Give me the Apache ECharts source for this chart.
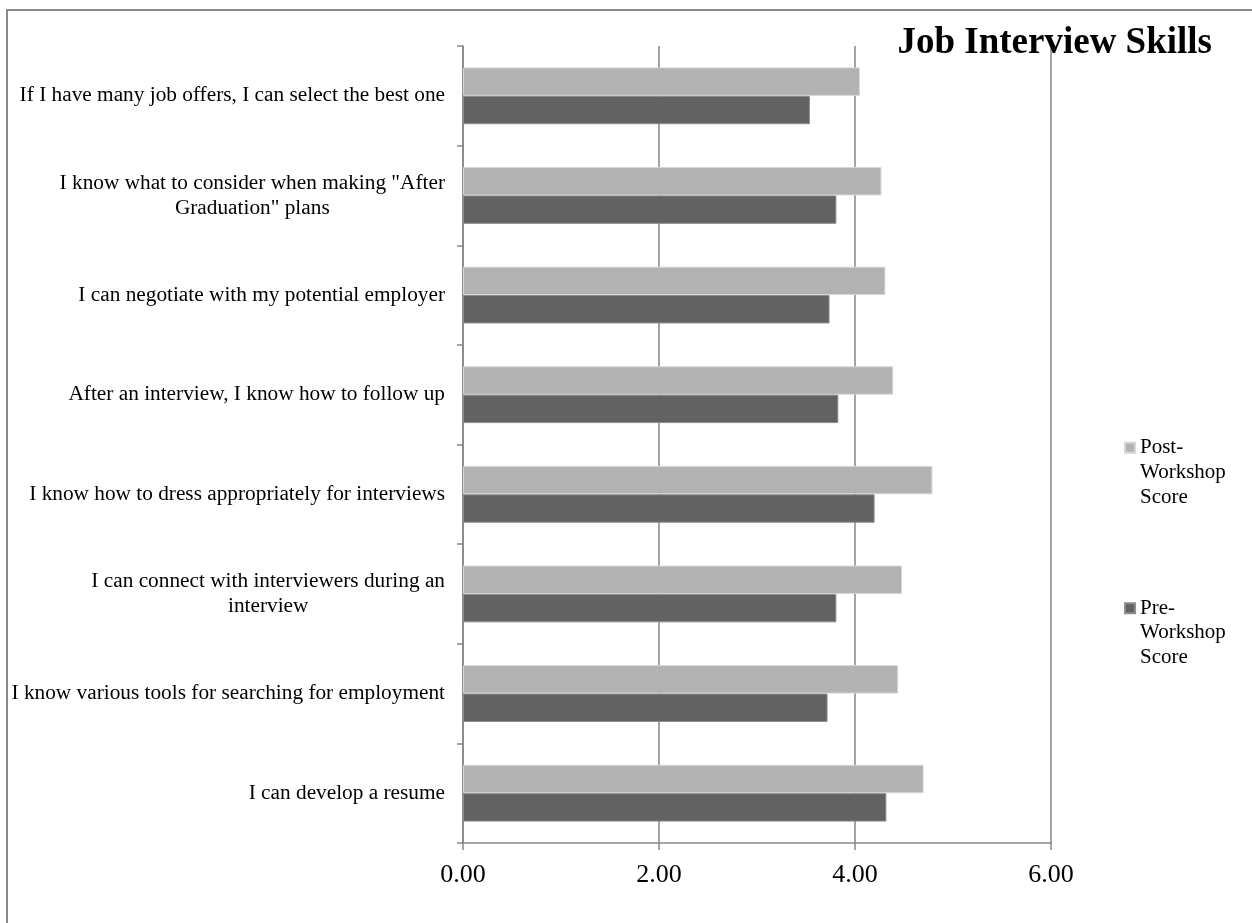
<!DOCTYPE html>
<html>
<head>
<meta charset="utf-8">
<style>
  html, body { margin: 0; padding: 0; background: #ffffff; }
  #chart { width: 1252px; height: 923px; }
</style>
<script src="https://cdn.jsdelivr.net/npm/echarts@6/dist/echarts.min.js"></script>
</head>
<body>
<div id="chart"></div>
<script>
// Categories, top to bottom as shown in the chart
const categories = [
  'If I have many job offers, I can select the best one',
  'I know what to consider when making "After\nGraduation" plans',
  'I can negotiate with my potential employer',
  'After an interview, I know how to follow up',
  'I know how to dress appropriately for interviews',
  'I can connect with interviewers during an\ninterview',
  'I know various tools for searching for employment',
  'I can develop a resume'
];
const seriesNames = ['Post-Workshop Score', 'Pre-Workshop Score'];
const postScores = [4.05, 4.27, 4.31, 4.39, 4.79, 4.48, 4.44, 4.70];
const preScores  = [3.54, 3.81, 3.74, 3.83, 4.20, 3.81, 3.72, 4.32];
const xTicks = [0, 2, 4, 6];
const titleText = 'Job Interview Skills';

const FONT = 'Liberation Serif, Times New Roman, serif';
const AXIS_GRAY = '#868686';

const chart = echarts.init(document.getElementById('chart'), null, { renderer: 'canvas' });

const option = {
  backgroundColor: '#ffffff',
  animation: false,
  title: {
    text: titleText,
    right: 40,
    top: 25,
    padding: 0,
    textStyle: { fontFamily: FONT, fontWeight: 'bold', fontSize: 37, color: '#000000' }
  },
  graphic: [{
    type: 'rect',
    silent: true,
    shape: { x: 7, y: 10, width: 1400, height: 1000 },
    style: { fill: 'none', stroke: '#8a8a8a', lineWidth: 2 }
  }],
  legend: {
    orient: 'vertical',
    left: 1119,
    top: 381,
    itemWidth: 10,
    itemHeight: 10,
    itemGap: 37,
    icon: 'rect',
    data: seriesNames,
    formatter: function (name) {
      // two leading empty lines so the marker sits beside the first text line
      return '\n\n' + name.replace('-', '-\n').replace(' ', '\n');
    },
    textStyle: {
      fontFamily: FONT,
      fontSize: 21,
      lineHeight: 24.7,
      color: '#000000'
    }
  },
  grid: {
    left: 463,
    right: 201,
    top: 46,
    bottom: 80,
    containLabel: false,
    outerBoundsMode: 'none'
  },
  xAxis: {
    type: 'value',
    min: xTicks[0],
    max: xTicks[xTicks.length - 1],
    interval: xTicks[1] - xTicks[0],
    axisLine: { show: true, lineStyle: { color: AXIS_GRAY, width: 1.5 } },
    axisTick: { show: true, length: 7, lineStyle: { color: AXIS_GRAY, width: 1.5 } },
    splitLine: { show: true, lineStyle: { color: AXIS_GRAY, width: 1.5 } },
    axisLabel: {
      margin: 19,
      fontFamily: FONT,
      fontSize: 26,
      color: '#000000',
      formatter: function (v) { return v.toFixed(2); }
    }
  },
  yAxis: {
    type: 'category',
    inverse: true,
    data: categories,
    axisLine: { show: true, lineStyle: { color: AXIS_GRAY, width: 1.5 } },
    axisTick: { show: true, length: 6, lineStyle: { color: AXIS_GRAY, width: 1.5 } },
    splitLine: { show: false },
    axisLabel: {
      margin: 18,
      interval: 0,
      formatter: function (v) {
        return v.split('\n').map(function (l) { return '{c|' + l + '}'; }).join('\n');
      },
      rich: {
        c: {
          fontFamily: FONT,
          fontSize: 21.3,
          lineHeight: 25,
          color: '#000000',
          align: 'center'
        }
      }
    }
  },
  series: [
    {
      name: seriesNames[0],
      type: 'bar',
      data: postScores,
      barGap: '0%',
      barCategoryGap: '43%',
      itemStyle: { color: '#b2b2b2', borderColor: '#d6d6d6', borderWidth: 1 }
    },
    {
      name: seriesNames[1],
      type: 'bar',
      data: preScores,
      barGap: '0%',
      barCategoryGap: '43%',
      itemStyle: { color: '#626262', borderColor: '#8c8c8c', borderWidth: 1 }
    }
  ]
};

chart.setOption(option);
</script>
</body>
</html>
